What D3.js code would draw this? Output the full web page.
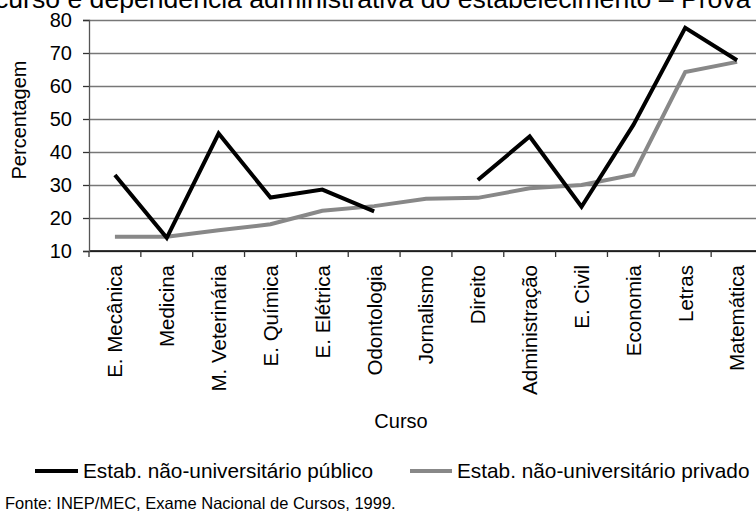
<!DOCTYPE html>
<html>
<head>
<meta charset="utf-8">
<script src="https://cdn.jsdelivr.net/npm/d3@7"></script>
<style>
  body { margin: 0; background: #fff; }
  svg { display: block; font-family: "Liberation Sans", Arial, Helvetica, sans-serif; }
  .grid line { stroke: #777; stroke-width: 1.3; }
  .grid path { stroke: none; }
</style>
</head>
<body>
<svg class="chart" width="756" height="513"></svg>
<script>
// courses on the x axis
let cursos = ["E. Mecânica", "Medicina", "M. Veterinária", "E. Química", "E. Elétrica",
  "Odontologia", "Jornalismo", "Direito", "Administração", "E. Civil", "Economia",
  "Letras", "Matemática"];
// percentages, public establishments (no value for Jornalismo)
let publico = [33, 14, 45.6, 26.2, 28.6, 22, null, 31.5, 44.7, 23.4, 48.2, 77.6, 67.8];
// percentages, private establishments
let privado = [14.3, 14.3, 16.3, 18.1, 22.2, 23.6, 25.8, 26.1, 29, 30, 33.1, 64.2, 67.3];
let yTicks = [10, 20, 30, 40, 50, 60, 70, 80];

let svg = d3.select("body").select(".chart");

// plot area
let margin = {top: 20, left: 89};
let plotWidth = 674;
let plotHeight = 231;

let xScale = d3.scaleBand()
  .domain(cursos)
  .range([0, plotWidth]);
let yScale = d3.scaleLinear()
  .domain([10, 80])
  .range([plotHeight, 0]);

let plot = svg.append("g").attr("transform", translate(margin.left, margin.top));

// title, cut by the top of the picture
svg.append("text")
  .attr("x", -5)
  .attr("y", 7.5)
  .style("font-size", "26.6px")
  .text("curso e dependência administrativa do estabelecimento – Prova");

// gridlines
let gridlines = d3.axisLeft(yScale)
  .tickValues(yTicks)
  .tickFormat("")
  .tickSize(-plotWidth);
plot.append("g").attr("class", "grid").call(gridlines);

// x axis line
plot.append("line")
  .attr("x1", 0).attr("x2", plotWidth)
  .attr("y1", yScale(10)).attr("y2", yScale(10))
  .attr("stroke", "#000").attr("stroke-width", 1.3);

// tick marks between categories
let bounds = cursos.map(c => xScale(c)).concat([plotWidth]);
plot.selectAll(".xtick")
  .data(bounds)
  .enter().append("line")
  .attr("class", "xtick")
  .attr("x1", d => d).attr("x2", d => d)
  .attr("y1", plotHeight).attr("y2", plotHeight + 6)
  .attr("stroke", "#333").attr("stroke-width", 1.3);

// y axis
let yAxis = d3.axisLeft(yScale).tickValues(yTicks).tickSize(6).tickPadding(11);
let yGroup = plot.append("g").call(yAxis);
yGroup.select(".domain").attr("stroke", "#555").attr("stroke-width", 1.3);
yGroup.selectAll(".tick line").attr("stroke", "#333").attr("stroke-width", 1.3);
yGroup.selectAll("text")
  .style("font-size", "20px")
  .style("font-family", "Liberation Sans, Arial, sans-serif")
  .attr("fill", "#000");

// category labels
let xAxis = d3.axisBottom(xScale).tickSize(0);
let xGroup = plot.append("g").attr("transform", translate(0, plotHeight)).call(xAxis);
xGroup.select(".domain").remove();
xGroup.selectAll("text")
  .style("font-size", "20.5px")
  .style("font-family", "Liberation Sans, Arial, sans-serif")
  .attr("fill", "#000")
  .attr("text-anchor", "end")
  .attr("transform", "rotate(-90)")
  .attr("x", -14)
  .attr("y", 0)
  .attr("dy", "0.36em");

// lines
let cx = c => xScale(c) + xScale.bandwidth() / 2;
let line = d3.line()
  .defined(d => d.v != null)
  .x(d => cx(d.c))
  .y(d => yScale(d.v));

plot.append("path")
  .datum(cursos.map((c, i) => ({c: c, v: privado[i]})))
  .attr("fill", "none")
  .attr("stroke", "#888")
  .attr("stroke-width", 4)
  .attr("stroke-linejoin", "miter")
  .attr("d", line);

plot.append("path")
  .datum(cursos.map((c, i) => ({c: c, v: publico[i]})))
  .attr("fill", "none")
  .attr("stroke", "#000")
  .attr("stroke-width", 4)
  .attr("stroke-linejoin", "miter")
  .attr("d", line);

// axis titles
svg.append("text")
  .attr("transform", "translate(26,120) rotate(-90)")
  .attr("text-anchor", "middle")
  .style("font-size", "20px")
  .text("Percentagem");

svg.append("text")
  .attr("x", 401)
  .attr("y", 428)
  .attr("text-anchor", "middle")
  .style("font-size", "20px")
  .text("Curso");

// legend
svg.append("line")
  .attr("x1", 35).attr("x2", 78).attr("y1", 471).attr("y2", 471)
  .attr("stroke", "#000").attr("stroke-width", 4);
svg.append("text")
  .attr("x", 83).attr("y", 478)
  .style("font-size", "20.8px")
  .text("Estab. não-universitário público");
svg.append("line")
  .attr("x1", 410).attr("x2", 452).attr("y1", 471).attr("y2", 471)
  .attr("stroke", "#888").attr("stroke-width", 4);
svg.append("text")
  .attr("x", 457).attr("y", 478)
  .style("font-size", "20.8px")
  .text("Estab. não-universitário privado");

// source
svg.append("text")
  .attr("x", 5).attr("y", 509)
  .style("font-size", "16.5px")
  .text("Fonte: INEP/MEC, Exame Nacional de Cursos, 1999.");

function translate(x, y) {
  return 'translate(' + x + ',' + y + ')';
}
</script>
</body>
</html>
